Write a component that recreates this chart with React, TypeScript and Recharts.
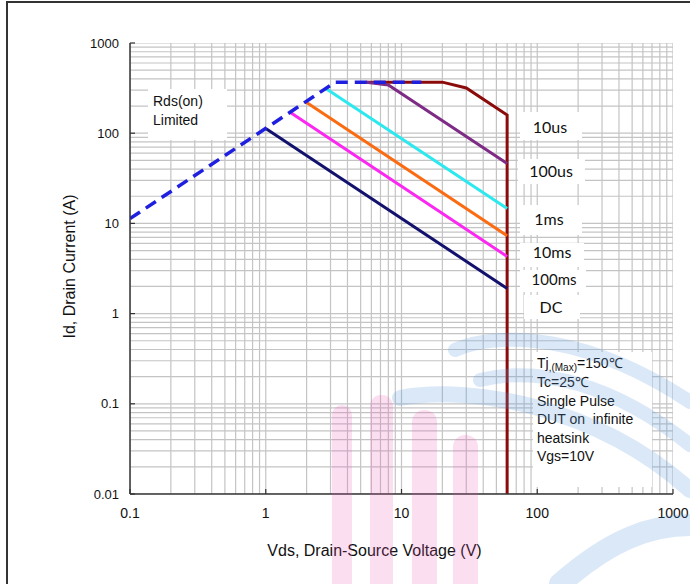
import React from "react";
import { LineChart, Line, XAxis, YAxis, ReferenceLine } from "recharts";

// axis ticks (log decades)
const xTicks = [0.1, 1, 10, 100, 1000];
const yTicks = [0.01, 0.1, 1, 10, 100, 1000];
const minorSteps = [1, 2, 3, 4, 5, 6, 7, 8, 9];

// SOA boundaries (Vds in V, Id in A)
const rdsLimit = [
  { vds: 0.1, id: 11.3 },
  { vds: 3.25, id: 368 },
  { vds: 14, id: 368 },
];
const pulse10us = [
  { vds: 5.5, id: 368 },
  { vds: 20, id: 368 },
  { vds: 30, id: 317 },
  { vds: 60, id: 159 },
  { vds: 60, id: 0.01 },
];
const pulse100us = [
  { vds: 5.5, id: 368 },
  { vds: 8, id: 342 },
  { vds: 60, id: 46 },
];
const pulse1ms = [
  { vds: 2.75, id: 316 },
  { vds: 60, id: 14.6 },
];
const pulse10ms = [
  { vds: 1.95, id: 224 },
  { vds: 60, id: 7.3 },
];
const pulse100ms = [
  { vds: 1.5, id: 172 },
  { vds: 60, id: 4.3 },
];
const dcLine = [
  { vds: 1.0, id: 113 },
  { vds: 60, id: 1.9 },
];

const gridX = xTicks.slice(0, -1).flatMap((d) => minorSteps.map((m) => d * m)).concat([1000]);
const gridY = yTicks.slice(0, -1).flatMap((d) => minorSteps.map((m) => d * m)).concat([1000]);

const arial = "'Liberation Sans', Arial, sans-serif";
const gridColor = "#c4c4c4";

// right-hand curve labels
const curveLabels = [
  { text: "10us", x: 550, y: 133, box: [520, 112, 62, 28], size: 16 },
  { text: "100us", x: 551, y: 177, box: [518, 159, 67, 25], size: 16 },
  { text: "1ms", x: 549, y: 225, box: [520, 205, 62, 30], size: 16 },
  { text: "10ms", x: 552, y: 258, box: [520, 243, 64, 24], size: 16 },
  { text: "100ms", x: 554, y: 285, box: [520, 270, 66, 22], size: 15 },
  { text: "DC", x: 551, y: 313, box: [524, 295, 56, 24], size: 16 },
];

const notes = ["Tc=25\u2103", "Single Pulse", "DUT on  infinite", "heatsink", "Vgs=10V"];

export default function App() {
  return (
    <div style={{ position: "absolute", left: 0, top: 0, width: 690, height: 584, background: "#fff" }}>
      <LineChart width={690} height={584} margin={{ top: 43, right: 17, bottom: 20, left: 60 }}>
        <XAxis
          dataKey="vds"
          type="number"
          scale="log"
          domain={[0.1, 1000]}
          ticks={xTicks}
          allowDataOverflow
          height={70}
          tickSize={-5}
          tickMargin={19}
          tick={{ fontSize: 14, fill: "#111", fontFamily: arial }}
          axisLine={{ stroke: "#333", strokeWidth: 1.5 }}
          tickLine={{ stroke: "#333", strokeWidth: 1.2 }}
        />
        <YAxis
          dataKey="id"
          type="number"
          scale="log"
          domain={[0.01, 1000]}
          ticks={yTicks}
          allowDataOverflow
          width={70}
          tickSize={-5}
          tickMargin={16}
          tick={{ fontSize: 13, fill: "#111", fontFamily: arial }}
          axisLine={{ stroke: "#333", strokeWidth: 1.5 }}
          tickLine={{ stroke: "#333", strokeWidth: 1.2 }}
        />
        {gridX.map((v) => (
          <ReferenceLine key={"gx" + v} x={v} stroke={gridColor} strokeWidth={1.2} ifOverflow="hidden" />
        ))}
        {gridY.map((v) => (
          <ReferenceLine key={"gy" + v} y={v} stroke={gridColor} strokeWidth={1.2} ifOverflow="hidden" />
        ))}
        <Line data={pulse10us} dataKey="id" stroke="#8b0a0a" strokeWidth={3} dot={false} isAnimationActive={false} />
        <Line data={pulse100us} dataKey="id" stroke="#7e2b86" strokeWidth={3} dot={false} isAnimationActive={false} />
        <Line data={pulse1ms} dataKey="id" stroke="#2ee8f0" strokeWidth={3} dot={false} isAnimationActive={false} />
        <Line data={pulse10ms} dataKey="id" stroke="#fb6b12" strokeWidth={3} dot={false} isAnimationActive={false} />
        <Line data={pulse100ms} dataKey="id" stroke="#fa28f0" strokeWidth={3} dot={false} isAnimationActive={false} />
        <Line data={dcLine} dataKey="id" stroke="#12126e" strokeWidth={3} dot={false} isAnimationActive={false} />
        <Line
          data={rdsLimit}
          dataKey="id"
          stroke="#1f1fe0"
          strokeWidth={3.5}
          strokeDasharray="12 7"
          dot={false}
          isAnimationActive={false}
        />
      </LineChart>

      <svg width={690} height={584} style={{ position: "absolute", left: 0, top: 0, pointerEvents: "none" }}>
        {/* page frame */}
        <line x1={6} y1={2} x2={690} y2={2} stroke="#333" strokeWidth={2} />
        <line x1={7} y1={2} x2={7} y2={584} stroke="#333" strokeWidth={2} />

        {/* axis titles */}
        <text x={374.5} y={556} textAnchor="middle" style={{ fontSize: 16, fill: "#111", fontFamily: arial }}>
          Vds, Drain-Source Voltage (V)
        </text>
        <text
          x={75}
          y={266.5}
          textAnchor="middle"
          transform="rotate(-90, 75, 266.5)"
          style={{ fontSize: 16, fill: "#111", fontFamily: arial }}
        >
          Id, Drain Current (A)
        </text>

        {/* Rds(on) note */}
        <rect x={148} y={89} width={79} height={51} fill="#fff" />
        <text x={153} y={106} style={{ fontSize: 14, fill: "#111", fontFamily: arial }}>Rds(on)</text>
        <text x={153} y={125} style={{ fontSize: 14, fill: "#111", fontFamily: arial }}>Limited</text>

        {/* curve labels */}
        {curveLabels.map((c) => (
          <g key={c.text}>
            <rect x={c.box[0]} y={c.box[1]} width={c.box[2]} height={c.box[3]} fill="#fff" />
            <text x={c.x} y={c.y} textAnchor="middle" style={{ fontSize: c.size, fill: "#111", fontFamily: "Lato, 'Open Sans', sans-serif" }}>
              {c.text}
            </text>
          </g>
        ))}

        {/* test conditions */}
        <rect x={533} y={352} width={119} height={135} fill="#fff" />
        <text x={537} y={368} style={{ fontSize: 14, fill: "#111", fontFamily: arial }}>
          Tj
          <tspan fontSize={10} dy={3}>,(Max)</tspan>
          <tspan fontSize={14} dy={-3}>=150{"\u2103"}</tspan>
        </text>
        {notes.map((n, i) => (
          <text key={n} x={537} y={387 + i * 18.5} style={{ fontSize: 14, fill: "#111", fontFamily: arial, whiteSpace: "pre" }}>
            {n}
          </text>
        ))}

        {/* faint watermark */}
        <g fill="#f050b8" opacity={0.18}>
          <rect x={332} y={405} width={20} height={200} rx={10} />
          <rect x={370} y={395} width={23} height={210} rx={11} />
          <rect x={412} y={410} width={25} height={200} rx={12} />
          <rect x={453} y={435} width={25} height={170} rx={12} />
        </g>
        <g fill="none" stroke="#5a9be0" opacity={0.22} strokeLinecap="round">
          <path d="M 455 350 C 500 330, 590 335, 690 402" strokeWidth={14} />
          <path d="M 480 380 C 540 365, 615 385, 690 445" strokeWidth={14} />
          <path d="M 400 398 C 470 385, 595 405, 690 490" strokeWidth={16} />
          <path d="M 560 584 C 610 540, 650 525, 690 525" strokeWidth={22} />
        </g>
      </svg>
    </div>
  );
}
